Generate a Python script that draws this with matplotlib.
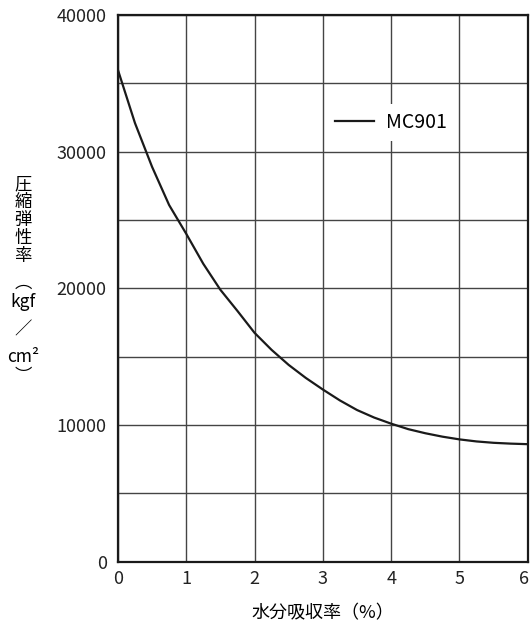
import matplotlib
matplotlib.use("Agg")
from matplotlib import pyplot as plt
from matplotlib.transforms import ScaledTranslation

# water absorption (%) vs compressive modulus (kgf/cm2)
absorption = [0, 0.25, 0.5, 0.75, 1.0, 1.25, 1.5, 1.75, 2.0, 2.25, 2.5, 2.75,
              3.0, 3.25, 3.5, 3.75, 4.0, 4.25, 4.5, 4.75, 5.0, 5.25, 5.5,
              5.75, 6.0]
modulus = [36000, 32100, 28900, 26100, 24000, 21800, 19900, 18350, 16750,
           15500, 14400, 13450, 12600, 11800, 11100, 10550, 10100, 9700,
           9400, 9150, 8950, 8800, 8700, 8640, 8600]
series_name = "MC901"
x_ticks = [0, 1, 2, 3, 4, 5, 6]
y_ticks = [0, 10000, 20000, 30000, 40000]

plt.rcParams["font.family"] = ["Noto Sans CJK JP", "DejaVu Sans"]

fig = plt.figure(figsize=(5.31, 6.29), dpi=100)
ax = fig.add_axes([0.222, 0.107, 0.772, 0.869])

ax.plot(absorption, modulus, color="#1a1a1a", lw=1.6, label=series_name)

ax.set_xlim(0, 6)
ax.set_ylim(0, 40000)
ax.set_xticks(x_ticks)
ax.set_yticks(y_ticks)
ax.set_yticks(range(0, 40001, 5000), minor=True)
ax.grid(True, which="both", color="#444444", lw=1.0)
ax.set_axisbelow(True)
ax.tick_params(which="both", length=0, labelsize=13, colors="#222222")
ax.tick_params(axis="x", pad=6)
ax.tick_params(axis="y", pad=8)
for sp in ax.spines.values():
    sp.set_linewidth(1.6)
    sp.set_color("#1a1a1a")

# last x label sits on the figure edge, nudge it in a bit
last = ax.get_xticklabels()[-1]
last.set_transform(last.get_transform() + ScaledTranslation(-3 / 72, 0, fig.dpi_scale_trans))

leg = ax.legend(loc="center", bbox_to_anchor=(0.666, 0.804), fontsize=14,
                handlelength=2.0, handletextpad=0.6, borderpad=0.4,
                frameon=True, fancybox=False)
leg.get_frame().set_facecolor("white")
leg.get_frame().set_edgecolor("none")
leg.get_frame().set_alpha(1)

fig.text(0.608, 0.025, "水分吸収率（%）", ha="center", va="center", fontsize=13)

# vertical y label: kanji column as one text, then the unit pieces
lx = 23 / 531
fig.text(lx, 1 - 220 / 629, "圧\n縮\n弾\n性\n率", ha="center", va="center",
         fontsize=12.5, linespacing=1.0)
unit_parts = [("︵", 292, "bottom"), ("kgf", 302, "center"),
              ("／", 330, "center"), ("cm²", 357, "center"),
              ("︶", 367, "top")]
for s, py, va in unit_parts:
    fig.text(lx, 1 - py / 629, s, ha="center", va=va, fontsize=12.5)

fig.savefig("out.png", dpi=100)
